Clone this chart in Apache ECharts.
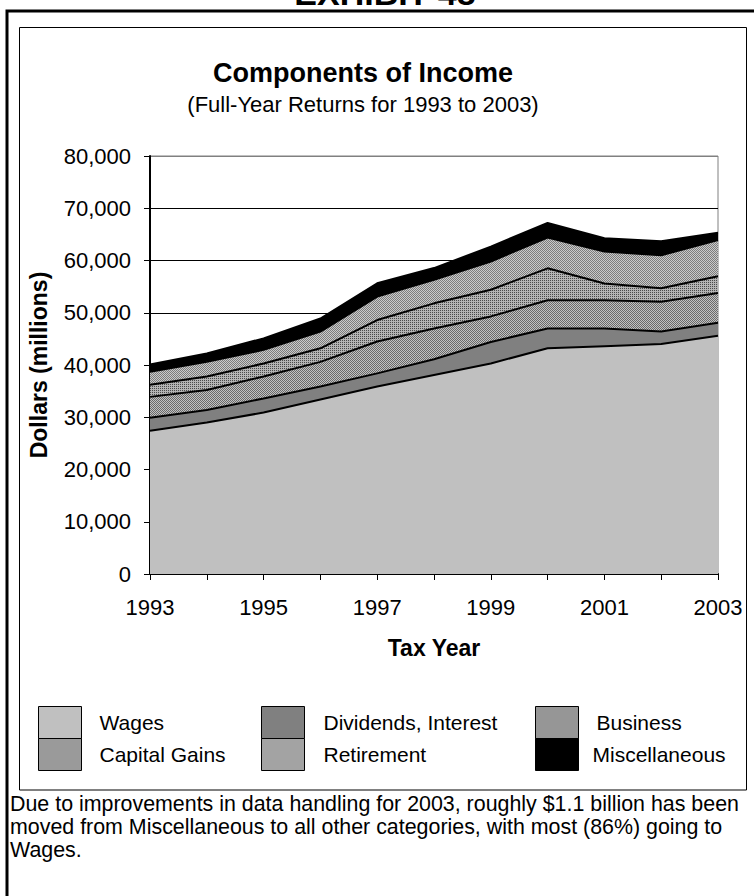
<!DOCTYPE html>
<html><head><meta charset="utf-8">
<script src="https://cdn.jsdelivr.net/npm/echarts@6/dist/echarts.min.js"></script>
<style>
html,body{margin:0;padding:0;background:#fff;}
#wrap{position:relative;width:754px;height:896px;overflow:hidden;font-family:'Liberation Sans',Arial,sans-serif;color:#000;}
#chart{position:absolute;left:0;top:0;width:754px;height:896px;}
#exhibit{position:absolute;left:0;width:770px;text-align:center;top:-24px;font-size:34px;line-height:34px;font-weight:bold;}
#note{position:absolute;left:10px;top:793px;font-size:21.4px;line-height:23px;white-space:nowrap;}
</style></head>
<body><div id="wrap"><div id="chart"></div><div id="exhibit">EXHIBIT 48</div>
<div id="note">Due to improvements in data handling for 2003, roughly $1.1 billion has been<br>moved from Miscellaneous to all other categories, with most (86%) going to<br>Wages.</div></div>
<script>
const years = ['1993','1994','1995','1996','1997','1998','1999','2000','2001','2002','2003'];
const wages        = [27400, 29000, 30900, 33400, 35900, 38100, 40300, 43200, 43600, 44000, 45600];
const dividends    = [2500, 2400, 2700, 2500, 2500, 3000, 4100, 3800, 3400, 2400, 2500];
const business     = [4000, 3800, 4200, 4700, 6100, 5900, 4900, 5400, 5400, 5700, 5700];
const capitalGains = [2300, 2600, 2500, 2600, 4100, 4800, 5100, 6100, 3200, 2600, 3200];
const retirement   = [2500, 2800, 2600, 3200, 4500, 4500, 5400, 5900, 6100, 6300, 6900];
const misc         = [1400, 1600, 2200, 2500, 2550, 2250, 2850, 2800, 2550, 2700, 1400];
const seriesNames = ['Wages','Dividends, Interest','Business','Capital Gains','Retirement','Miscellaneous'];
const yTicks = {min: 0, max: 80000, interval: 10000};

const FONT = "'Liberation Sans', Arial, sans-serif";
function pat(rows, cmap) {
  const h = rows.length, w = rows[0].length;
  const c = document.createElement('canvas'); c.width = w; c.height = h;
  const ctx = c.getContext('2d');
  for (let y = 0; y < h; y++) for (let x = 0; x < w; x++) {
    ctx.fillStyle = cmap[rows[y][x]]; ctx.fillRect(x, y, 1, 1);
  }
  return {image: c.toDataURL(), imageWidth: w, imageHeight: h, repeat: 'repeat'};
}
const fills = [
  '#c0c0c0',
  '#808080',
  pat(['dl','ld'], {d:'#6a6a6a', l:'#c2c2c2'}),
  pat(['dl','ll'], {d:'#4a4a4a', l:'#b4b4b4'}),
  pat(['dl','ld'], {d:'#7c7c7c', l:'#cacaca'}),
  '#000000'
];
const dataSets = [wages, dividends, business, capitalGains, retirement, misc];

const series = dataSets.map((d, i) => ({
  name: seriesNames[i], type: 'line', stack: 'total', data: d,
  symbol: 'none', z: 10 - i, silent: true,
  lineStyle: {color: '#000', width: 2},
  areaStyle: {color: fills[i], opacity: 1}
}));

const legendPos = [
  {left: 38, top: 706, pad: 13},
  {left: 261, top: 706, pad: 14},
  {left: 535, top: 706, pad: 13},
  {left: 38, top: 738, pad: 13},
  {left: 261, top: 738, pad: 14},
  {left: 535, top: 738, pad: 9}
];
const legends = seriesNames.map((n, i) => ({
  data: [n], left: legendPos[i].left, top: legendPos[i].top, padding: 0,
  icon: 'rect', itemWidth: 43, itemHeight: 32, selectedMode: false,
  itemStyle: {color: fills[i], borderColor: '#000', borderWidth: 1},
  textStyle: {fontSize: 21, color: '#000', fontFamily: FONT, padding: [0,0,0,legendPos[i].pad]}
}));

const chart = echarts.init(document.getElementById('chart'), null, {renderer: 'svg'});
chart.setOption({
  animation: false,
  backgroundColor: 'transparent',
  title: {
    text: 'Components of Income', subtext: '(Full-Year Returns for 1993 to 2003)',
    left: 363, top: 59, textAlign: 'center', padding: 0, itemGap: 7,
    textStyle: {fontSize: 27, fontWeight: 'bold', color: '#000', fontFamily: FONT},
    subtextStyle: {fontSize: 22, color: '#000', fontFamily: FONT}
  },
  legend: legends,
  graphic: [
    {type: 'rect', shape: {x: 7, y: 11, width: 800, height: 1000}, style: {fill: 'none', stroke: '#000', lineWidth: 3}, silent: true},
    {type: 'rect', shape: {x: 19.5, y: 27.5, width: 727, height: 762.5}, style: {fill: 'none', stroke: '#000', lineWidth: 1}, silent: true}
  ],
  grid: {left: 150, right: 36, top: 156, bottom: 322, show: true, borderColor: '#808080', borderWidth: 1, backgroundColor: 'transparent'},
  xAxis: {
    type: 'category', data: years, boundaryGap: false,
    name: 'Tax Year', nameLocation: 'middle', nameGap: 62,
    nameTextStyle: {fontSize: 23, fontWeight: 'bold', color: '#000', fontFamily: FONT},
    axisLine: {lineStyle: {color: '#000', width: 2}},
    axisTick: {show: true, interval: 0, length: 6, lineStyle: {color: '#000', width: 1}},
    axisLabel: {interval: 1, margin: 22, fontSize: 22, color: '#000', fontFamily: FONT},
    splitLine: {show: false}
  },
  yAxis: {
    type: 'value', min: yTicks.min, max: yTicks.max, interval: yTicks.interval,
    name: 'Dollars (millions)', nameLocation: 'middle', nameGap: 100, nameRotate: 90,
    nameTextStyle: {fontSize: 23, fontWeight: 'bold', color: '#000', fontFamily: FONT},
    axisLine: {show: true, lineStyle: {color: '#000', width: 2}},
    axisTick: {show: true, length: 6, lineStyle: {color: '#000', width: 1}},
    axisLabel: {margin: 19, fontSize: 22, color: '#000', fontFamily: FONT,
      formatter: v => v.toLocaleString('en-US')},
    splitLine: {show: true, lineStyle: {color: ['#000','#000','#000','#000','#000','#000','#000','#000','#808080'], width: 1}}
  },
  series: series
});
</script></body></html>
